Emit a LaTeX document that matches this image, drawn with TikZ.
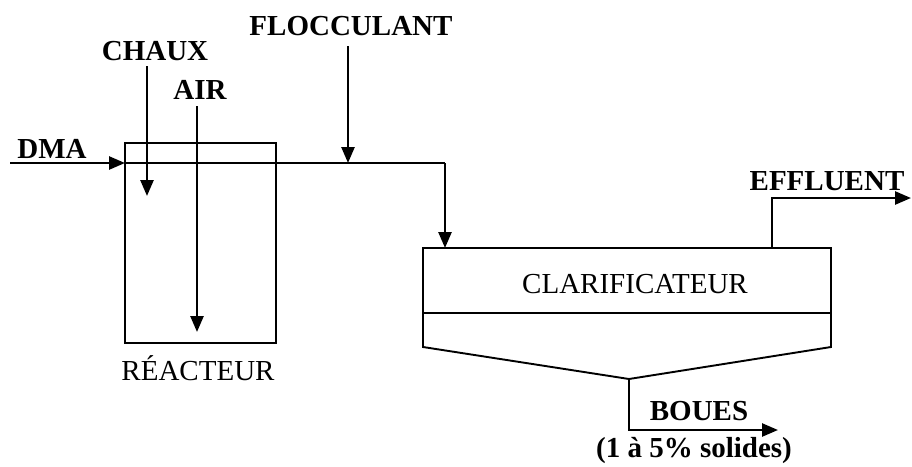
\documentclass[tikz,border=0pt]{standalone}
\usepackage{fontspec}
\setmainfont{Liberation Serif}
\usetikzlibrary{arrows.meta}
\begin{document}
\begin{tikzpicture}[x=1pt,y=-1pt,
  pipe/.style={line width=2.6pt},
  flow/.style={pipe,-{Triangle[length=16pt,width=13pt]}},
  vessel/.style={line width=1.9pt},
  lab/.style={font=\fontsize{29}{34}\selectfont\bfseries, anchor=base, inner sep=0pt},
  plain/.style={font=\fontsize{29}{34}\selectfont, anchor=base, inner sep=0pt}]
\useasboundingbox (0,0) rectangle (912,466);
% labels
\node[lab] (dma) at (52,158) {DMA};
\node[lab] (chaux) at (155,60) {CHAUX};
\node[lab] (air) at (200,99) {AIR};
\node[lab] (floc) at (351,35) {FLOCCULANT};
\node[lab] (eff) at (827,190) {EFFLUENT};
\node[lab] (boues) at (699,420) {BOUES};
\node[lab] (sol) at (694,457) {(1 à 5\% solides)};
% reactor
\node[draw, vessel, minimum width=151pt, minimum height=200pt, inner sep=0pt] (reac) at (200.5,243) {};
\node[plain] (reaclab) at (198,380) {RÉACTEUR};
% clarifier
\coordinate (c1) at (423,248);
\coordinate (c2) at (831,248);
\coordinate (c3) at (831,347);
\coordinate (apex) at (629,379);
\coordinate (c4) at (423,347);
\coordinate (m1) at (423,313);
\coordinate (m2) at (831,313);
\draw[vessel] (c1) -- (c2) -- (c3) -- (apex) -- (c4) -- cycle;
\draw[vessel] (m1) -- (m2);
\node[plain] (clar) at (635,293) {CLARIFICATEUR};
% flows
\coordinate (dmain) at (10,163);
\coordinate (rin) at (125,163);
\coordinate (rout) at (276,163);
\coordinate (fj) at (348,163);
\coordinate (turn) at (445,163);
\coordinate (cin) at (445,248);
\draw[flow] (dmain) -- (rin);
\draw[vessel] (rin) -- (rout);
\draw[pipe] (rout) -- (turn);
\draw[flow] (turn) -- (cin);
\draw[flow] (147,66) coordinate (ch0) -- (147,196) coordinate (ch1);
\draw[flow] (197,106) coordinate (a0) -- (197,332) coordinate (a1);
\draw[flow] (348,46) coordinate (f0) -- (fj);
\coordinate (e0) at (772,248);
\coordinate (e1) at (772,198);
\coordinate (e2) at (911,198);
\draw[flow] (e0) -- (e1) -- (e2);
\coordinate (b1) at (629,430);
\coordinate (b2) at (778,430);
\draw[flow] (apex) -- (b1) -- (b2);
\end{tikzpicture}
\end{document}
